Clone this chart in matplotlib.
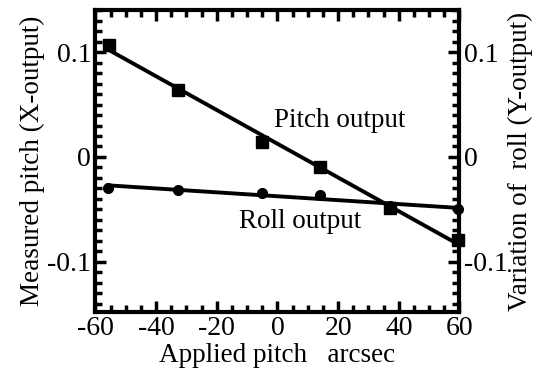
import matplotlib
matplotlib.use("Agg")
import matplotlib.pyplot as plt
import numpy as np
from matplotlib.ticker import MultipleLocator

plt.rcParams["font.family"] = ["Liberation Serif", "DejaVu Serif"]

# applied pitch (arcsec)
pitch_x = [-55.6, -32.8, -5.1, 14.0, 37.1, 59.5]
pitch_y = [0.107, 0.064, 0.0143, -0.0095, -0.0486, -0.079]

roll_x = [-55.9, -32.8, -5.1, 14.0, 37.1, 59.5]
roll_y = [-0.0295, -0.0314, -0.034, -0.036, -0.047, -0.050]

xticks = [-60, -40, -20, 0, 20, 40, 60]
yticks = [-0.1, 0, 0.1]
ytick_labels = ["-0.1", "0", "0.1"]

FS = 20
LFS = 19.5

fig = plt.figure(figsize=(5.33, 3.77), dpi=100)
ax = fig.add_axes([0.179, 0.172, 0.683, 0.801])

# fitted lines
for xs, ys in [(pitch_x, pitch_y), (roll_x, roll_y)]:
    k, b = np.polyfit(xs, ys, 1)
    xx = np.array([xs[0], xs[-1]])
    ax.plot(xx, k * xx + b, color="black", lw=2.8, zorder=2)

ax.plot(roll_x, roll_y, "o", color="black", ms=7, zorder=3, clip_on=False)
ax.plot(pitch_x, pitch_y, "s", color="black", ms=8.5, zorder=4, clip_on=False)

ax.text(20.6, 0.035, "Pitch output", fontsize=LFS, ha="center", va="center")
ax.text(7.4, -0.062, "Roll output", fontsize=LFS, ha="center", va="center")

ax.set_xlim(-60, 60)
ax.set_ylim(-0.148, 0.14)
ax.set_xticks(xticks)
ax.set_xticklabels([str(t) for t in xticks])
ax.set_yticks(yticks)
ax.set_yticklabels(ytick_labels)
ax.xaxis.set_minor_locator(MultipleLocator(5))
ax.yaxis.set_minor_locator(MultipleLocator(0.01))

ax.set_xlabel("Applied pitch   arcsec", fontsize=LFS, labelpad=1)
ax.set_ylabel("Measured pitch (X-output)", fontsize=LFS, labelpad=2)

for s in ax.spines.values():
    s.set_linewidth(3)

ax2 = ax.twinx()
ax2.set_ylim(ax.get_ylim())
ax2.set_yticks(yticks)
ax2.set_yticklabels(ytick_labels)
ax2.yaxis.set_minor_locator(MultipleLocator(0.01))
ax2.set_ylabel("Variation of  roll (Y-output)", fontsize=LFS, labelpad=0)

ax.tick_params(which="both", direction="in", top=True, right=False,
               labelsize=FS, width=2.5)
ax.tick_params(which="major", length=8, pad=3)
ax.tick_params(which="minor", length=5)
ax2.tick_params(which="both", direction="in", labelsize=FS, width=2.5)
ax2.tick_params(which="major", length=8, pad=3)
ax2.tick_params(which="minor", length=5)

fig.savefig("out.png", dpi=100)
